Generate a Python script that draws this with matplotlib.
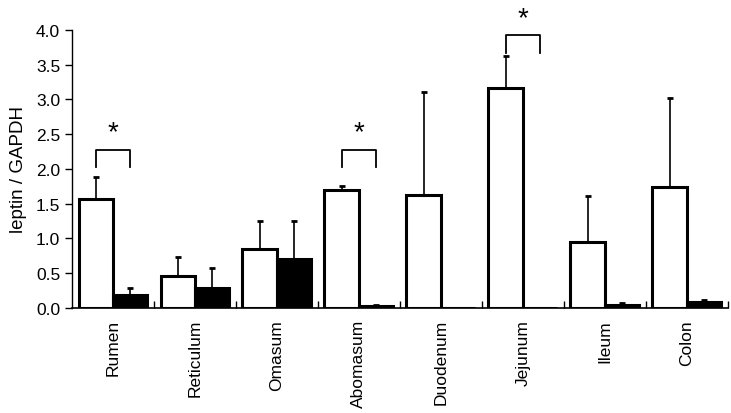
import numpy as np
import matplotlib.pyplot as plt

plt.rcParams["font.family"] = ["Liberation Sans", "DejaVu Sans"]

tissues = ["Rumen", "Reticulum", "Omasum", "Abomasum", "Duodenum", "Jejunum", "Ileum", "Colon"]
white_mean = [1.57, 0.46, 0.85, 1.70, 1.62, 3.17, 0.95, 1.74]
white_top = [1.88, 0.73, 1.25, 1.76, 3.11, 3.62, 1.61, 3.02]
black_mean = [0.19, 0.29, 0.70, 0.02, 0.00, 0.00, 0.04, 0.08]
black_top = [0.29, 0.57, 1.25, 0.04, 0.00, 0.00, 0.07, 0.12]
sig_groups = [0, 3, 5]
sig_bracket = [(2.03, 2.28), (2.03, 2.28), (3.67, 3.93)]

fig = plt.figure(figsize=(7.31, 4.14), dpi=100)
ax = fig.add_axes([0.0985, 0.254, 0.897, 0.671])

x = np.arange(len(tissues))
w = 0.42
werr = np.array(white_top) - np.array(white_mean)
berr = np.array(black_top) - np.array(black_mean)

ax.bar(x - w / 2, white_mean, w, color="white", edgecolor="black", linewidth=2.2, zorder=3)
ax.bar(x + w / 2, black_mean, w, color="black", edgecolor="black", linewidth=2.2, zorder=3)
ax.errorbar(x - w / 2, white_mean, yerr=[np.zeros(len(x)), werr], fmt="none",
            ecolor="black", elinewidth=1.2, capsize=2.5, capthick=2, zorder=2)
bmask = berr > 0
ax.errorbar((x + w / 2)[bmask], np.array(black_mean)[bmask],
            yerr=[np.zeros(bmask.sum()), berr[bmask]], fmt="none",
            ecolor="black", elinewidth=1.2, capsize=2.5, capthick=2, zorder=2)

for g, (lo, hi) in zip(sig_groups, sig_bracket):
    xl, xr = g - w / 2, g + w / 2
    ax.plot([xl, xl, xr, xr], [lo, hi, hi, lo], color="black", lw=1.3, clip_on=False)
    ax.text(g, hi + 0.06, "*", ha="center", va="bottom", fontsize=20, clip_on=False)

ax.set_xlim(-0.5, len(tissues) - 0.5)
ax.set_ylim(0, 4.0)
ax.set_yticks(np.arange(0, 4.01, 0.5))
ax.set_yticklabels([f"{v:.1f}" for v in np.arange(0, 4.01, 0.5)], fontsize=12.5)
ax.set_xticks(x)
ax.set_xticklabels(tissues, rotation=90, fontsize=12.5)
ax.tick_params(axis="x", length=0, pad=8)
ax.set_xticks(np.arange(0.5, len(tissues), 1), minor=True)
ax.tick_params(axis="x", which="minor", direction="in", length=5, width=1)
ax.tick_params(axis="y", direction="out", length=5, width=1)
ax.set_ylabel("leptin / GAPDH", fontsize=13.5, labelpad=6)
ax.spines["top"].set_visible(False)
ax.spines["right"].set_visible(False)
ax.spines["left"].set_linewidth(1)
ax.spines["bottom"].set_linewidth(1.2)

fig.savefig("out.png", dpi=100)
